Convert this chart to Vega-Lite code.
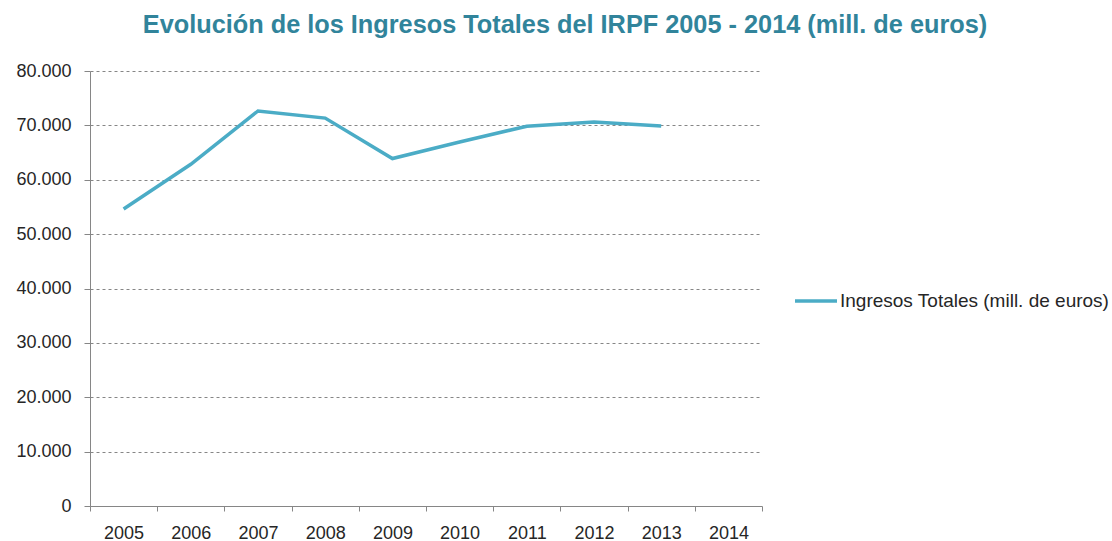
{
  "$schema": "https://vega.github.io/schema/vega-lite/v6.json",
  "autosize": "none",
  "width": 672,
  "height": 435,
  "padding": {"left": 90, "top": 71, "right": 350, "bottom": 35},
  "background": "white",
  "title": {
    "text": "Evolución de los Ingresos Totales del IRPF 2005 - 2014 (mill. de euros)",
    "font": "Liberation Sans",
    "fontSize": 25.3,
    "fontWeight": "bold",
    "color": "#31849B",
    "anchor": "middle",
    "dx": 139,
    "offset": 24
  },
  "config": {
    "locale": {"number": {"decimal": ",", "thousands": ".", "grouping": [3], "currency": ["", " €"]}},
    "view": {"stroke": null}
  },
  "data": {
    "values": [
      {"year": "2005", "value": 54620},
      {"year": "2006", "value": 62850},
      {"year": "2007", "value": 72650},
      {"year": "2008", "value": 71340},
      {"year": "2009", "value": 63900},
      {"year": "2010", "value": 66950},
      {"year": "2011", "value": 69850},
      {"year": "2012", "value": 70620},
      {"year": "2013", "value": 69900},
      {"year": "2014", "value": null}
    ]
  },
  "mark": {"type": "line", "strokeWidth": 3.5, "strokeJoin": "miter"},
  "encoding": {
    "x": {
      "field": "year",
      "type": "nominal",
      "bandPosition": 0.5,
      "scale": {"type": "band", "paddingInner": 0, "paddingOuter": 0, "domain": ["2005","2006","2007","2008","2009","2010","2011","2012","2013","2014"]},
      "axis": {
        "title": null,
        "labelAngle": 0,
        "tickBand": "extent",
        "domainColor": "#868686",
        "tickColor": "#868686",
        "tickSize": 5,
        "labelFont": "Liberation Sans",
        "labelFontSize": 18,
        "labelColor": "#262626",
        "labelPadding": 13,
        "grid": false
      }
    },
    "y": {
      "field": "value",
      "type": "quantitative",
      "scale": {"domain": [0, 80000], "nice": false},
      "axis": {
        "title": null,
        "values": [0, 10000, 20000, 30000, 40000, 50000, 60000, 70000, 80000],
        "format": ",d",
        "domainColor": "#868686",
        "tickColor": "#868686",
        "tickSize": 6,
        "labelFont": "Liberation Sans",
        "labelFontSize": 18,
        "labelColor": "#262626",
        "labelPadding": 13,
        "grid": true,
        "gridColor": "#868686",
        "gridDash": [3, 3],
        "gridWidth": 1
      }
    },
    "color": {
      "datum": "Ingresos Totales (mill. de euros)",
      "type": "nominal",
      "scale": {"range": ["#4BACC6"]},
      "legend": {
        "title": null,
        "orient": "none",
        "legendX": 703,
        "legendY": 207,
        "symbolType": "stroke",
        "symbolSize": 1764,
        "symbolStrokeWidth": 3.5,
        "labelFont": "Liberation Sans",
        "labelFontSize": 19,
        "labelColor": "#262626",
        "labelOffset": 1,
        "labelLimit": 400
      }
    }
  }
}
